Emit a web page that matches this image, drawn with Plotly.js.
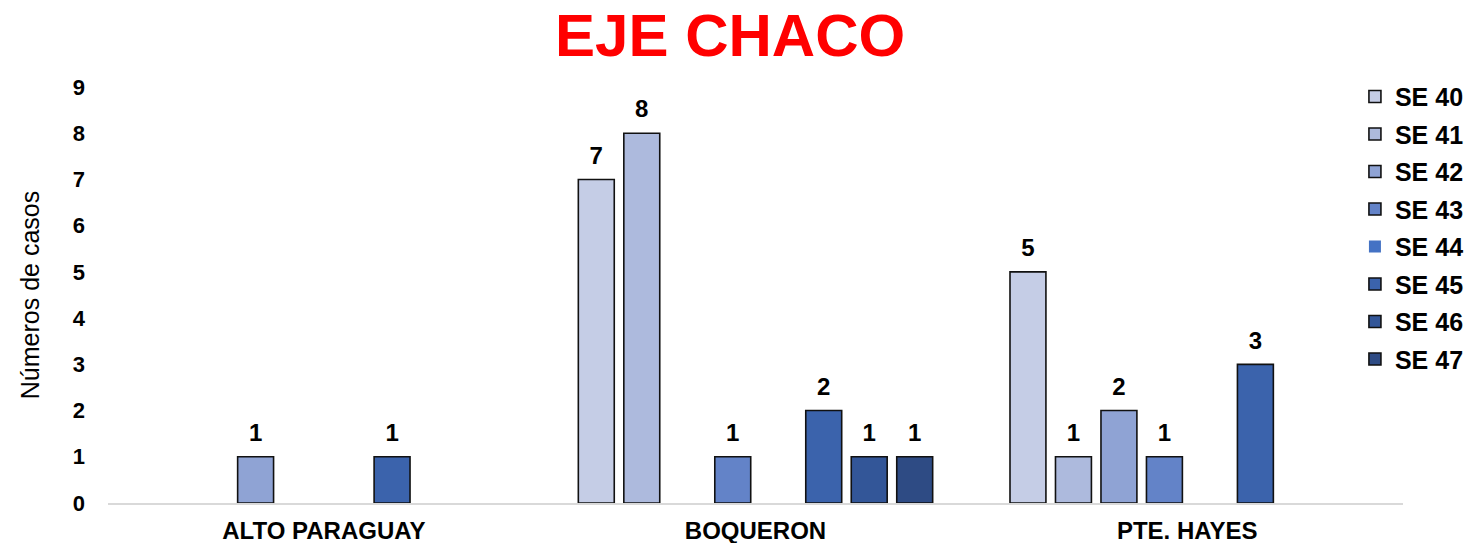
<!DOCTYPE html>
<html>
<head>
<meta charset="utf-8">
<script src="https://cdn.plot.ly/plotly-3.0.1.min.js"></script>
<style>html,body{margin:0;padding:0;background:#fff;}#chart{width:1475px;height:543px;}</style>
</head>
<body>
<div id="chart"></div>
<script>
const categories = ["ALTO PARAGUAY", "BOQUERON", "PTE. HAYES"];
const seriesNames = ["SE 40", "SE 41", "SE 42", "SE 43", "SE 44", "SE 45", "SE 46", "SE 47"];
const se40 = [null, 7, 5];
const se41 = [null, 8, 1];
const se42 = [1, null, 2];
const se43 = [null, 1, 1];
const se44 = [null, null, null];
const se45 = [1, 2, 3];
const se46 = [null, 1, null];
const se47 = [null, 1, null];
const seriesValues = [se40, se41, se42, se43, se44, se45, se46, se47];
const colors = ["#c5cde6", "#adbadd", "#8fa3d4", "#6383c8", "#4472c4", "#3b63ac", "#335698", "#2e4b84"];

const FONT = "Arial, Liberation Sans, sans-serif";

const barTraces = seriesNames.map((name, i) => ({
  type: "bar",
  name: name,
  x: categories,
  y: seriesValues[i],
  legendgroup: name,
  offsetgroup: "g" + i,
  marker: {
    color: colors[i],
    line: { color: i === 4 ? colors[i] : "#111111", width: i === 4 ? 0 : 1.6 }
  },
  hoverinfo: "x+y+name"
}));

const labelTraces = seriesNames.map((name, i) => ({
  type: "scatter",
  mode: "markers+text",
  name: name,
  x: categories,
  y: seriesValues[i],
  offsetgroup: "g" + i,
  showlegend: false,
  marker: { size: 14, opacity: 0, color: colors[i] },
  text: seriesValues[i].map(v => v === null ? "" : String(v)),
  textposition: "top center",
  textfont: { family: FONT, size: 24, color: "#000", weight: "bold" },
  cliponaxis: false,
  hoverinfo: "skip"
}));

const layout = {
  width: 1475,
  height: 543,
  margin: { l: 108, r: 72, t: 87, b: 40, autoexpand: false },
  paper_bgcolor: "#fff",
  plot_bgcolor: "rgba(0,0,0,0)",
  font: { family: FONT, color: "#000" },
  title: {
    text: "<b>EJE CHACO</b>",
    font: { family: FONT, size: 60, color: "#ff0000" },
    xref: "container", x: 0.495, xanchor: "center",
    yref: "container", y: 0.9748, yanchor: "top"
  },
  barmode: "group",
  bargap: 0.157,
  bargroupgap: 0.21,
  scattermode: "group",
  scattergap: 0.157,
  xaxis: {
    type: "category",
    range: [-0.5, 2.5],
    automargin: false,
    showline: true, linecolor: "#d9d9d9", linewidth: 1.5,
    showgrid: false, zeroline: false, ticks: "",
    tickfont: { family: FONT, size: 24, color: "#000", weight: "bold" },
    ticklabelstandoff: 5
  },
  yaxis: {
    range: [0, 9], dtick: 1, tick0: 0,
    automargin: false,
    showline: false, showgrid: false, zeroline: false, ticks: "",
    tickfont: { family: FONT, size: 22, color: "#000", weight: "bold" },
    ticklabelstandoff: 22,
    title: { text: "Números de casos", font: { family: FONT, size: 25, color: "#000" }, standoff: 26 }
  },
  legend: {
    xref: "container", x: 0.9186, xanchor: "left",
    y: 1.032, yanchor: "top",
    traceorder: "grouped", tracegroupgap: 2,
    maxheight: 520,
    bgcolor: "rgba(0,0,0,0)",
    font: { family: FONT, size: 25, color: "#000", weight: "bold" }
  },
  showlegend: true
};

Plotly.newPlot("chart", barTraces.concat(labelTraces), layout, { displayModeBar: false, responsive: false });
</script>
</body>
</html>
